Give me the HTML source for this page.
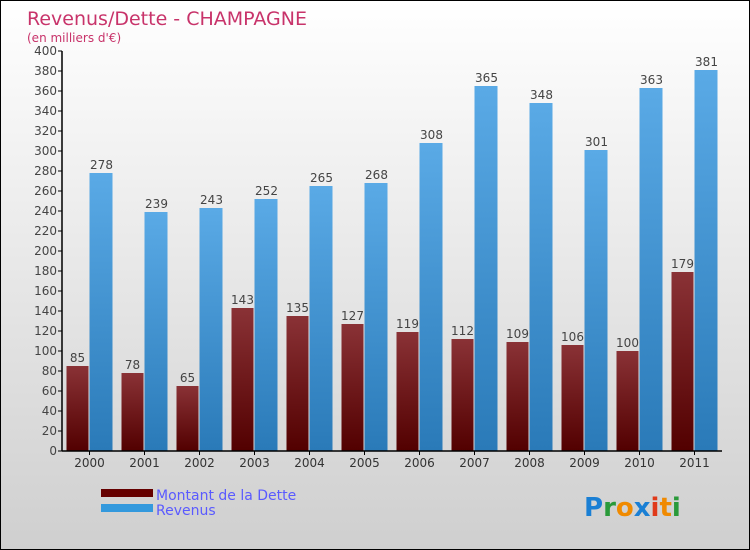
<!DOCTYPE html>
<html><head><meta charset="utf-8"><style>
body{margin:0}
#c{width:750px;height:550px;position:relative;overflow:hidden;font-family:"DejaVu Sans","Liberation Sans",sans-serif;background:linear-gradient(#fff,#cfcfcf);border:1px solid #000;box-sizing:border-box}
</style></head><body>
<div id="c">
<svg id="s" width="750" height="550" style="position:absolute;left:0;top:0">
<defs>
<linearGradient id="gd" x1="0" y1="0" x2="0" y2="1"><stop offset="0" stop-color="#8a3236"/><stop offset="1" stop-color="#520000"/></linearGradient>
<linearGradient id="gr" x1="0" y1="0" x2="0" y2="1"><stop offset="0" stop-color="#5aaae6"/><stop offset="1" stop-color="#2a7ab8"/></linearGradient>
</defs>
<text x="26" y="24" font-size="19" fill="#c8336a">Revenus/Dette - CHAMPAGNE</text>
<text x="26" y="41" font-size="12" fill="#c8336a">(en milliers d'€)</text>
<g id="g"></g>
<rect x="100" y="488" width="52" height="8" fill="#650000"/>
<rect x="100" y="503" width="52" height="8" fill="#3399dd"/>
<text x="155" y="499" font-size="14" fill="#5a5aff">Montant de la Dette</text>
<text x="155" y="514" font-size="14" fill="#5a5aff">Revenus</text>
<text x="583" y="515" font-size="26" font-weight="bold"><tspan fill="#1a7fd4">P</tspan><tspan fill="#2a9a3a">r</tspan><tspan fill="#f08a00">o</tspan><tspan fill="#1a7fd4">x</tspan><tspan fill="#e03a1a">i</tspan><tspan fill="#f08a00">t</tspan><tspan fill="#2a9a3a">i</tspan></text>
</svg>
</div>
<script>
const years=["2000","2001","2002","2003","2004","2005","2006","2007","2008","2009","2010","2011"];
const dette=[85,78,65,143,135,127,119,112,109,106,100,179];
const revenus=[278,239,243,252,265,268,308,365,348,301,363,381];
const yTicks=[0,20,40,60,80,100,120,140,160,180,200,220,240,260,280,300,320,340,360,380,400];
const NS="http://www.w3.org/2000/svg";
const g=document.getElementById('g');
const x0=61,x1=721,yb=450,yt=50,ymax=400;
const y=v=>yb-(v/ymax)*(yb-yt);
const step=(x1-x0)/years.length;
const cx=i=>x0+step*(i+0.5);
function el(t,a,txt){const e=document.createElementNS(NS,t);for(const k in a)e.setAttribute(k,a[k]);if(txt!==undefined)e.textContent=txt;g.appendChild(e);return e;}
years.forEach((yr,i)=>{
 const c=cx(i);
 let b=el('rect',{x:c-23,y:y(dette[i]),width:22,height:yb-y(dette[i]),fill:'url(#gd)'});
 
 
 let r=el('rect',{x:c,y:y(revenus[i]),width:23,height:yb-y(revenus[i]),fill:'url(#gr)'});
 
 
 let t1=el('text',{x:c-12,y:y(dette[i])-4,'font-size':12,fill:'#444','text-anchor':'middle'},dette[i]);
 
 
 let t2=el('text',{x:c+12,y:y(revenus[i])-4,'font-size':12,fill:'#444','text-anchor':'middle'},revenus[i]);
 
 
 let tk=el('line',{x1:c,x2:c,y1:yb,y2:yb+4,stroke:'#000'});
 
 
 let xl=el('text',{x:c,y:yb+16,'font-size':12,fill:'#333','text-anchor':'middle'},yr);
 
 
});
yTicks.forEach(v=>{
 let tk=el('line',{x1:x0-4,x2:x0,y1:y(v),y2:y(v),stroke:'#000'});
 
 
 let l=el('text',{x:x0-5,y:y(v)+4,'font-size':12,fill:'#444','text-anchor':'end'},v);
 
 
});
let ya=el('line',{x1:x0,x2:x0,y1:yt,y2:yb,stroke:'#000','stroke-width':1.5});


let xa=el('line',{x1:x0,x2:x1,y1:yb,y2:yb,stroke:'#000','stroke-width':1.5});


</script>
</body></html>
